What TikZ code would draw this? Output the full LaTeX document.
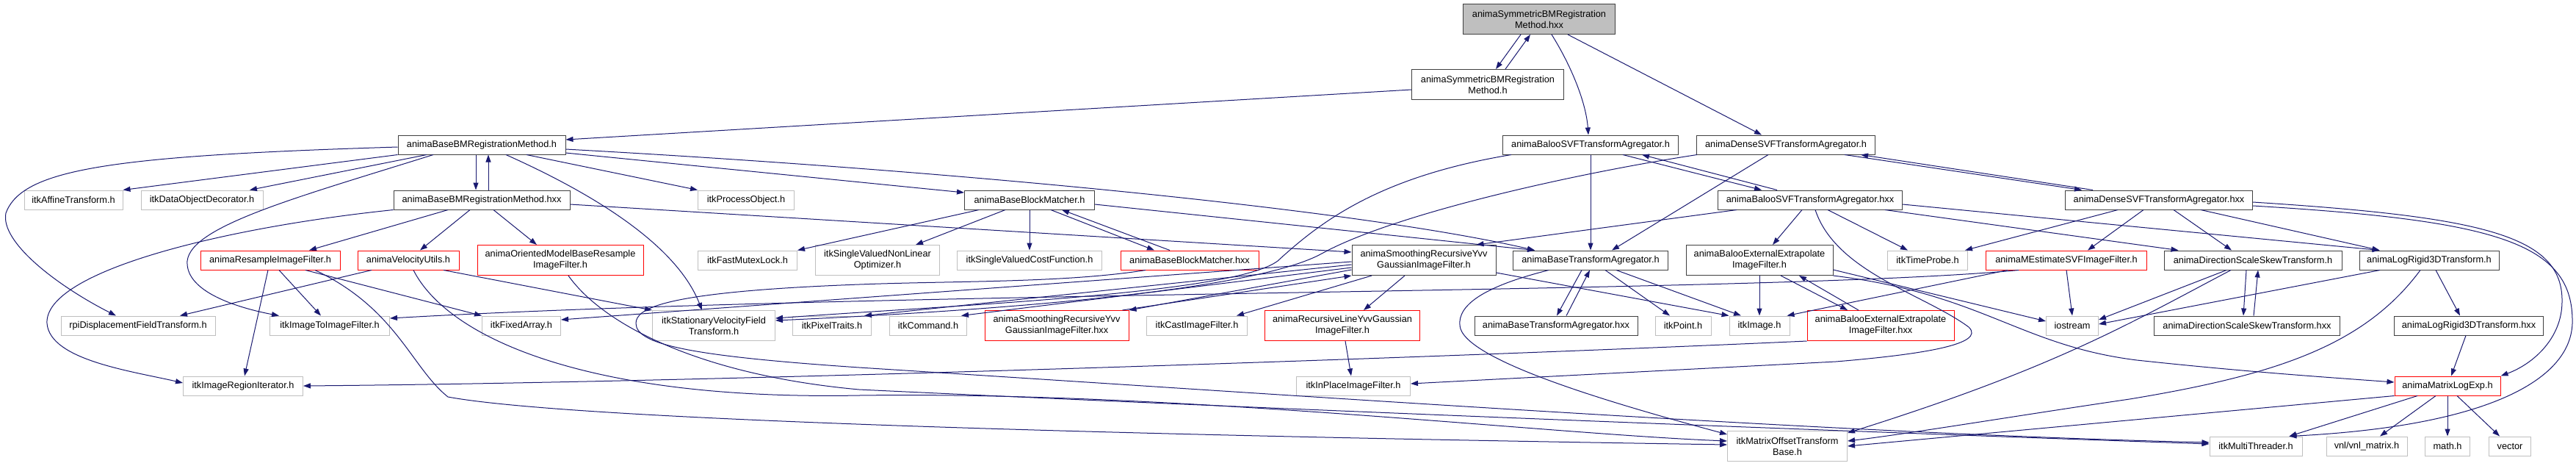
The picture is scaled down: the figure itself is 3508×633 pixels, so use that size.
\documentclass[tikz,border=0pt]{standalone}
\usepackage{fontspec}
\setmainfont{Liberation Sans}
\usepackage{xcolor}
\usetikzlibrary{arrows.meta}
\definecolor{Navy}{HTML}{191970}
\definecolor{Grey}{HTML}{BFBFBF}
\definecolor{Dark}{HTML}{404040}
\definecolor{Trunc}{HTML}{FF0000}
\begin{document}
\begin{tikzpicture}[x=1pt,y=-1pt,
    n/.style={draw,line width=1pt,inner xsep=4pt,inner ysep=1pt,minimum height=26pt,align=center,font=\fontsize{12.75}{15}\selectfont},
    nb/.style={n,draw=Dark},
    ng/.style={n,draw=Grey},
    nr/.style={n,draw=Trunc},
    two/.style={minimum height=41pt},
    a/.style={-{Triangle[length=10pt,width=7pt]},line width=1pt,draw=Navy}]
    \fill[white] (0,0) rectangle (3508,633);
    \useasboundingbox (0,0) rectangle (3508,633);
    \node[nb,two,fill=Grey,minimum width=207] (symhxx) at (2096,26) {animaSymmetricBMRegistration\\Method.hxx};
    \node[nb,two,minimum width=207] (symh) at (2026,115) {animaSymmetricBMRegistration\\Method.h};
    \node[nb,minimum width=228] (basebmh) at (656,197) {animaBaseBMRegistrationMethod.h};
    \node[nb,minimum width=239] (balooh) at (2166,197) {animaBalooSVFTransformAgregator.h};
    \node[nb,minimum width=243] (denseh) at (2432,197) {animaDenseSVFTransformAgregator.h};
    \node[ng,minimum width=134] (affine) at (100,272) {itkAffineTransform.h};
    \node[ng,minimum width=166] (decor) at (275,272) {itkDataObjectDecorator.h};
    \node[nb,minimum width=240] (basebmhxx) at (656,272) {animaBaseBMRegistrationMethod.hxx};
    \node[ng,minimum width=131] (procobj) at (1016,272) {itkProcessObject.h};
    \node[nb,minimum width=177] (blockh) at (1402,272) {animaBaseBlockMatcher.h};
    \node[nb,minimum width=251] (baloohxx) at (2465,272) {animaBalooSVFTransformAgregator.hxx};
    \node[nb,minimum width=255] (densehxx) at (2940,272) {animaDenseSVFTransformAgregator.hxx};
    \node[nr,minimum width=190] (resample) at (368,354) {animaResampleImageFilter.h};
    \node[nr,minimum width=138] (velutils) at (556,354) {animaVelocityUtils.h};
    \node[nr,two,minimum width=226] (oriented) at (763,354) {animaOrientedModelBaseResample\\ImageFilter.h};
    \node[ng,minimum width=135] (mutex) at (1018,354) {itkFastMutexLock.h};
    \node[ng,two,minimum width=169] (optim) at (1195,354) {itkSingleValuedNonLinear\\Optimizer.h};
    \node[ng,minimum width=197] (costfn) at (1402,354) {itkSingleValuedCostFunction.h};
    \node[nr,minimum width=188] (blockhxx) at (1620,354) {animaBaseBlockMatcher.hxx};
    \node[nb,two,minimum width=196] (smoothh) at (1939,354) {animaSmoothingRecursiveYvv\\GaussianImageFilter.h};
    \node[nb,minimum width=211] (basetah) at (2166,354) {animaBaseTransformAgregator.h};
    \node[nb,two,minimum width=200] (extrh) at (2396,354) {animaBalooExternalExtrapolate\\ImageFilter.h};
    \node[ng,minimum width=109] (timeprobe) at (2625,354) {itkTimeProbe.h};
    \node[nr,minimum width=219] (mestim) at (2814,354) {animaMEstimateSVFImageFilter.h};
    \node[nb,minimum width=242] (dssh) at (3068,354) {animaDirectionScaleSkewTransform.h};
    \node[nb,minimum width=190] (logrh) at (3308,354) {animaLogRigid3DTransform.h};
    \node[ng,minimum width=210] (rpi) at (188,443) {rpiDisplacementFieldTransform.h};
    \node[ng,minimum width=163] (img2img) at (449,443) {itkImageToImageFilter.h};
    \node[ng,minimum width=107] (fixarr) at (710,443) {itkFixedArray.h};
    \node[ng,two,minimum width=167] (svft) at (972,443) {itkStationaryVelocityField\\Transform.h};
    \node[ng,minimum width=107] (pixtr) at (1133,443) {itkPixelTraits.h};
    \node[ng,minimum width=105] (command) at (1264,443) {itkCommand.h};
    \node[nr,two,minimum width=196] (smoothhxx) at (1439,443) {animaSmoothingRecursiveYvv\\GaussianImageFilter.hxx};
    \node[ng,minimum width=137] (cast) at (1630,443) {itkCastImageFilter.h};
    \node[nr,two,minimum width=211] (recline) at (1828,443) {animaRecursiveLineYvvGaussian\\ImageFilter.h};
    \node[nb,minimum width=222] (basetahxx) at (2119,443) {animaBaseTransformAgregator.hxx};
    \node[ng,minimum width=76] (point) at (2292,443) {itkPoint.h};
    \node[ng,minimum width=82] (image) at (2396,443) {itkImage.h};
    \node[nr,two,minimum width=200] (extrhxx) at (2561,443) {animaBalooExternalExtrapolate\\ImageFilter.hxx};
    \node[ng,minimum width=71] (iostr) at (2822,443) {iostream};
    \node[nb,minimum width=253] (dsshxx) at (3060,443) {animaDirectionScaleSkewTransform.hxx};
    \node[nb,minimum width=203] (logrhxx) at (3362,443) {animaLogRigid3DTransform.hxx};
    \node[ng,minimum width=163] (regit) at (331,525) {itkImageRegionIterator.h};
    \node[ng,minimum width=155] (inplace) at (1843,525) {itkInPlaceImageFilter.h};
    \node[nr,minimum width=144] (mlogexp) at (3333,525) {animaMatrixLogExp.h};
    \node[ng,two,minimum width=163] (matoff) at (2434,607) {itkMatrixOffsetTransform\\Base.h};
    \node[ng,minimum width=126] (mthread) at (3072,607) {itkMultiThreader.h};
    \node[ng,minimum width=110] (vnl) at (3223,607) {vnl/vnl\_matrix.h};
    \node[ng,minimum width=61] (mathh) at (3333,607) {math.h};
    \node[ng,minimum width=57] (vect) at (3418,607) {vector};
    \draw[a] ([xshift=-25pt]symhxx.south) -- ([xshift=11pt]symh.north); \draw[a] ([xshift=24pt]symh.north) -- ([xshift=-12pt]symhxx.south);
    \draw[a] ([xshift=17pt]symhxx.south) .. controls (2140,90) and (2160,140) .. ([xshift=-3pt]balooh.north);
    \draw[a] ([xshift=39pt]symhxx.south) -- ([xshift=-33pt]denseh.north);
    \draw[a] ([yshift=-7pt]symh.west) -- ([yshift=7pt]basebmh.east);
    \draw[a] (basebmh.south west) -- (affine.north east); \draw[a] ([xshift=-75pt]basebmh.south) -- ([xshift=65pt]decor.north);
    \draw[a] ([xshift=-8pt]basebmh.south) -- ([xshift=-8pt]basebmhxx.north); \draw[a] ([xshift=9pt]basebmhxx.north) -- ([xshift=9pt]basebmh.south);
    \draw[a] ([xshift=61pt]basebmh.south) -- (procobj.north west); \draw[a] ([yshift=-11pt]basebmh.east) -- ([yshift=10pt]blockh.west);
    \draw[a] ([yshift=-6pt]basebmh.east) .. controls (1300,232) and (1850,285) .. ([xshift=-76pt]basetah.north);
    \draw[a] ([yshift=-3pt]basebmh.west) .. controls (150,212) and (30,230) .. (8,290) .. controls (0,330) and (80,390) .. ([xshift=-30pt]rpi.north);
    \draw[a] ([xshift=-66pt]basebmh.south) .. controls (400,270) and (250,310) .. (255,360) .. controls (258,400) and (330,420) .. ([xshift=-69pt]img2img.north);
    \draw[a] ([xshift=33pt]basebmh.south) .. controls (800,260) and (920,330) .. ([xshift=-16pt]svft.north);
    \draw[a] ([xshift=-46pt]basebmhxx.south) -- ([xshift=53pt]resample.north); \draw[a] ([xshift=-16pt]basebmhxx.south) -- ([xshift=16pt]velutils.north);
    \draw[a] ([xshift=16pt]basebmhxx.south) -- ([xshift=-32pt]oriented.north);
    \draw[a] (basebmhxx.south west) .. controls (300,310) and (60,370) .. (64,440) .. controls (68,490) and (180,505) .. ([yshift=4pt]regit.west);
    \draw[a] ([yshift=-6pt]basebmhxx.east) -- ([yshift=11pt]smoothh.west);
    \draw[a] ([xshift=-3pt]resample.south) -- ([xshift=2pt]regit.north); \draw[a] ([xshift=12pt]resample.south) -- ([xshift=-12pt]img2img.north);
    \draw[a] ([xshift=48pt]resample.south) -- (fixarr.north west);
    \draw[a] ([xshift=61pt]resample.south) .. controls (540,420) and (560,500) .. (610,540) .. controls (800,575) and (1700,595) .. ([yshift=2pt]matoff.west);
    \draw[a] ([xshift=-50pt]velutils.south) -- ([xshift=57pt]rpi.north); \draw[a] ([xshift=48pt]velutils.south) -- (svft.north west);
    \draw[a] ([xshift=7pt]velutils.south) .. controls (610,460) and (800,545) .. (1170,538) .. controls (1600,532) and (2100,590) .. ([yshift=7pt]matoff.west);
    \draw[a] ([xshift=11pt]oriented.south) .. controls (820,440) and (950,510) .. (1170,530) .. controls (1800,560) and (2600,590) .. ([yshift=3pt]mthread.west);
    \draw[a] ([xshift=-69pt]blockh.south) -- (mutex.north east); \draw[a] ([xshift=-33pt]blockh.south) -- ([xshift=52pt]optim.north);
    \draw[a] (blockh.south) -- (costfn.north);
    \draw[a] ([xshift=29pt]blockh.south) -- ([xshift=-48pt]blockhxx.north); \draw[a] ([xshift=-27pt]blockhxx.north) -- ([xshift=44pt]blockh.south);
    \draw[a] ([yshift=-6pt]blockh.east) -- ([xshift=-76pt]basetah.north);
    \draw[a] ([xshift=-60pt]blockhxx.south) .. controls (1450,385) and (1300,382) .. (1170,387) .. controls (900,397) and (866,420) .. (866,440) .. controls (866,470) and (950,485) .. (1170,500) .. controls (1800,540) and (2500,590) .. ([yshift=5pt]mthread.west);
    \draw[a] ([yshift=8pt]smoothh.south west) -- (smoothhxx.north east); \draw[a] ([xshift=-9pt]smoothhxx.north east) -- (smoothh.south west);
    \draw[a] ([xshift=-26pt]smoothh.south) -- ([xshift=29pt]recline.north); \draw[a] ([xshift=-71pt]smoothh.south) -- ([xshift=-15pt]cast.north east);
    \draw[a] ([yshift=-10pt]smoothh.west) -- ([xshift=-8pt]command.north east); \draw[a] ([yshift=-6pt]smoothh.west) -- ([xshift=-10pt]pixtr.north east);
    \draw[a] ([yshift=-2pt]smoothh.west) -- ([yshift=8pt]fixarr.east); \draw[a] ([yshift=4pt]smoothh.south east) -- (image.north west);
    \draw[a] ([xshift=-12pt]basetah.south) -- ([xshift=1pt]basetahxx.north); \draw[a] ([xshift=14pt]basetahxx.north) -- ([xshift=-1pt]basetah.south);
    \draw[a] ([xshift=20pt]basetah.south) -- ([xshift=-18pt]point.north); \draw[a] ([xshift=35pt]basetah.south) -- ([xshift=-25pt]image.north);
    \draw[a] ([xshift=-57pt]basetah.south) .. controls (2020,390) and (1985,415) .. (1988,443) .. controls (1992,490) and (2200,550) .. ([yshift=-5pt]matoff.north west);
    \draw[a] ([xshift=44pt]balooh.south) -- ([xshift=-66pt]baloohxx.north); \draw[a] ([xshift=-45pt]baloohxx.north) -- ([xshift=70pt]balooh.south);
    \draw[a] (balooh.south) -- (basetah.north);
    \draw[a] ([xshift=-108pt]balooh.south) .. controls (1880,240) and (1800,300) .. (1740,355) .. controls (1680,400) and (1300,415) .. ([yshift=10pt]svft.east);
    \draw[a] ([xshift=-24pt]denseh.south) -- ([xshift=29pt]basetah.north);
    \draw[a] ([xshift=-121pt]denseh.south) .. controls (2150,235) and (1900,290) .. (1800,345) .. controls (1700,400) and (1300,425) .. ([yshift=7pt]svft.east);
    \draw[a] ([xshift=80pt]denseh.south) -- ([xshift=-105pt]densehxx.north); \draw[a] ([xshift=-90pt]densehxx.north) -- ([xshift=102pt]denseh.south);
    \draw[a] ([xshift=26pt]baloohxx.south west) -- ([xshift=-27pt]smoothh.north east); \draw[a] ([xshift=-11pt]baloohxx.south) -- ([xshift=18pt]extrh.north);
    \draw[a] ([xshift=7pt]baloohxx.south) .. controls (2500,370) and (2620,400) .. (2681,445) .. controls (2705,468) and (2620,482) .. (2500,492) -- ([yshift=3pt]inplace.east);
    \draw[a] ([xshift=24pt]baloohxx.south) -- ([xshift=-27pt]timeprobe.north); \draw[a] ([xshift=-24pt]baloohxx.south east) -- ([xshift=20pt]dssh.north west);
    \draw[a] ([yshift=-6pt]baloohxx.east) -- ([xshift=28pt]logrh.north west);
    \draw[a] ([xshift=-56pt]densehxx.south) -- ([xshift=-4pt]timeprobe.north east); \draw[a] ([xshift=-21pt]densehxx.south) -- ([xshift=29pt]mestim.north);
    \draw[a] ([xshift=20pt]densehxx.south) -- ([xshift=-29pt]dssh.north); \draw[a] ([xshift=57pt]densehxx.south) -- ([xshift=28pt]logrh.north west);
    \draw[a] ([yshift=-3pt]densehxx.east) .. controls (3380,295) and (3490,320) .. (3489,410) .. controls (3489,460) and (3450,495) .. (mlogexp.north east);
    \draw[a] ([yshift=-8pt]densehxx.east) .. controls (3400,300) and (3505,330) .. (3503,440) .. controls (3500,520) and (3380,580) .. ([xshift=-18pt]mthread.north east);
    \draw[a] (extrh.south) -- (image.north);
    \draw[a] ([xshift=29pt]extrh.south) -- ([xshift=-45pt]extrhxx.north); \draw[a] ([xshift=-30pt]extrhxx.north) -- ([xshift=54pt]extrh.south);
    \draw[a] ([yshift=-13pt]extrh.east) -- ([yshift=6pt]iostr.west);
    \draw[a] (extrh.south east) .. controls (2700,400) and (2750,470) .. (2910,490) .. controls (3050,505) and (3150,512) .. ([yshift=5pt]mlogexp.west);
    \draw[a] (extrhxx.south west) .. controls (2000,485) and (1000,520) .. (regit.east);
    \draw[a] ([xshift=-80pt]mestim.south) -- ([xshift=-4pt]image.north east); \draw[a] (mestim.south) -- (iostr.north);
    \draw[a] ([xshift=-65pt]mestim.south) .. controls (2400,400) and (1200,395) .. ([yshift=10pt]img2img.east);
    \draw[a] ([xshift=-9pt]dssh.south) -- ([xshift=-5pt]dsshxx.north); \draw[a] ([xshift=9pt]dsshxx.north) -- ([xshift=7pt]dssh.south);
    \draw[a] ([xshift=-36pt]dssh.south) -- ([yshift=8pt]iostr.east);
    \draw[a] ([xshift=-30pt]dssh.south) .. controls (2900,440) and (2800,500) .. ([yshift=-3pt]matoff.north east);
    \draw[a] ([xshift=9pt]logrh.south) -- ([xshift=-12pt]logrhxx.north); \draw[a] ([xshift=-67pt]logrh.south) -- ([yshift=2pt]iostr.east);
    \draw[a] ([xshift=-12pt]logrh.south) .. controls (3220,470) and (3100,510) .. (2900,543) .. controls (2750,565) and (2600,590) .. ([yshift=7pt]matoff.east);
    \draw[a] ([xshift=-4pt]logrhxx.south) -- ([xshift=5pt]mlogexp.north);
    \draw[a] (mlogexp.south west) -- (matoff.east); \draw[a] ([xshift=-41pt]mlogexp.south) -- ([xshift=-18pt]mthread.north east);
    \draw[a] ([xshift=-16pt]mlogexp.south) -- ([xshift=18pt]vnl.north); \draw[a] (mlogexp.south) -- (mathh.north);
    \draw[a] ([xshift=13pt]mlogexp.south) -- ([xshift=-14pt]vect.north);
    \draw[a] ([xshift=4pt]recline.south) -- ([xshift=-3pt]inplace.north);
  \end{tikzpicture}
\end{document}
